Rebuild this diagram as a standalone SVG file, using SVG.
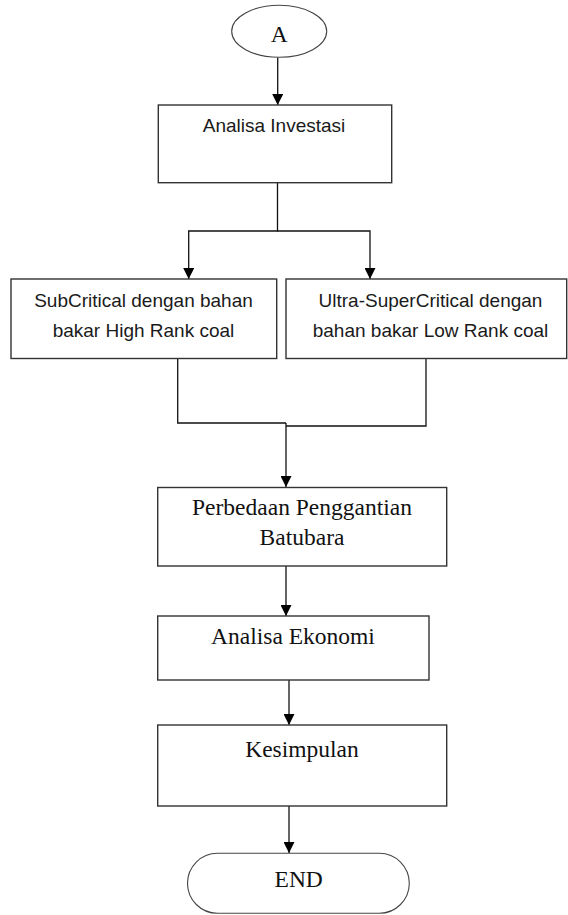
<svg xmlns="http://www.w3.org/2000/svg" width="568" height="915" viewBox="0 0 568 915">
<style>
.box{fill:#fff;stroke:#333;stroke-width:1.4}
.term{fill:#fff;stroke:#444;stroke-width:1.1}
.sans{font-family:"Liberation Sans",Arial,sans-serif;font-size:19px;fill:#1a1a1a;text-anchor:middle}
.serif{font-family:"Liberation Serif","Times New Roman",serif;font-size:23.5px;fill:#111;text-anchor:middle}
.conn{fill:none;stroke:#111;stroke-width:1.3}
</style>
<defs>
<marker id="arr" viewBox="0 0 10 10" refX="10" refY="5" markerWidth="11" markerHeight="11" markerUnits="userSpaceOnUse" orient="auto">
<path d="M0,0 L10,5 L0,10 z" fill="#000"/>
</marker>
</defs>
<g id="connectors">
<path class="conn" d="M277.7,57.5 V105" marker-end="url(#arr)"/>
<path class="conn" d="M277.5,183 V231 H188.7 V279" marker-end="url(#arr)"/>
<path class="conn" d="M277.5,231 H370 V279" marker-end="url(#arr)"/>
<path class="conn" d="M177.7,359 V423 H286"/>
<path class="conn" d="M426,359 V426 H286"/>
<path class="conn" d="M286,423 V487" marker-end="url(#arr)"/>
<path class="conn" d="M286,566 V616" marker-end="url(#arr)"/>
<path class="conn" d="M289,680 V725" marker-end="url(#arr)"/>
<path class="conn" d="M289,806 V853" marker-end="url(#arr)"/>
</g>
<g id="nodeA">
<ellipse class="term" cx="279.2" cy="31.3" rx="47.5" ry="26"/>
<text class="serif" x="279.3" y="41.7">A</text>
</g>
<g id="nodeInvestasi">
<rect class="box" x="158.3" y="105" width="233.4" height="77.7"/>
<text class="sans" x="274" y="131.7">Analisa Investasi</text>
</g>
<g id="nodeSubCritical">
<rect class="box" x="11" y="279" width="265.7" height="79.5"/>
<text class="sans" x="143.5" y="307.3">SubCritical dengan bahan</text>
<text class="sans" x="143.5" y="337.3">bakar High Rank coal</text>
</g>
<g id="nodeUltra">
<rect class="box" x="286" y="279" width="280.7" height="79.5"/>
<text class="sans" x="430.5" y="307.3">Ultra-SuperCritical dengan</text>
<text class="sans" x="430.5" y="337.3">bahan bakar Low Rank coal</text>
</g>
<g id="nodePerbedaan">
<rect class="box" x="157.7" y="487.5" width="289" height="78.5"/>
<text class="serif" x="302" y="515">Perbedaan Penggantian</text>
<text class="serif" x="302" y="545">Batubara</text>
</g>
<g id="nodeEkonomi">
<rect class="box" x="157.7" y="616" width="271.3" height="64"/>
<text class="serif" x="293" y="644">Analisa Ekonomi</text>
</g>
<g id="nodeKesimpulan">
<rect class="box" x="157.7" y="725" width="289" height="81"/>
<text class="serif" x="302" y="757.3">Kesimpulan</text>
</g>
<g id="nodeEND">
<rect class="term" x="187.5" y="853.3" width="221.8" height="60" rx="30" ry="30"/>
<text class="serif" x="298.7" y="887.3">END</text>
</g>
</svg>
